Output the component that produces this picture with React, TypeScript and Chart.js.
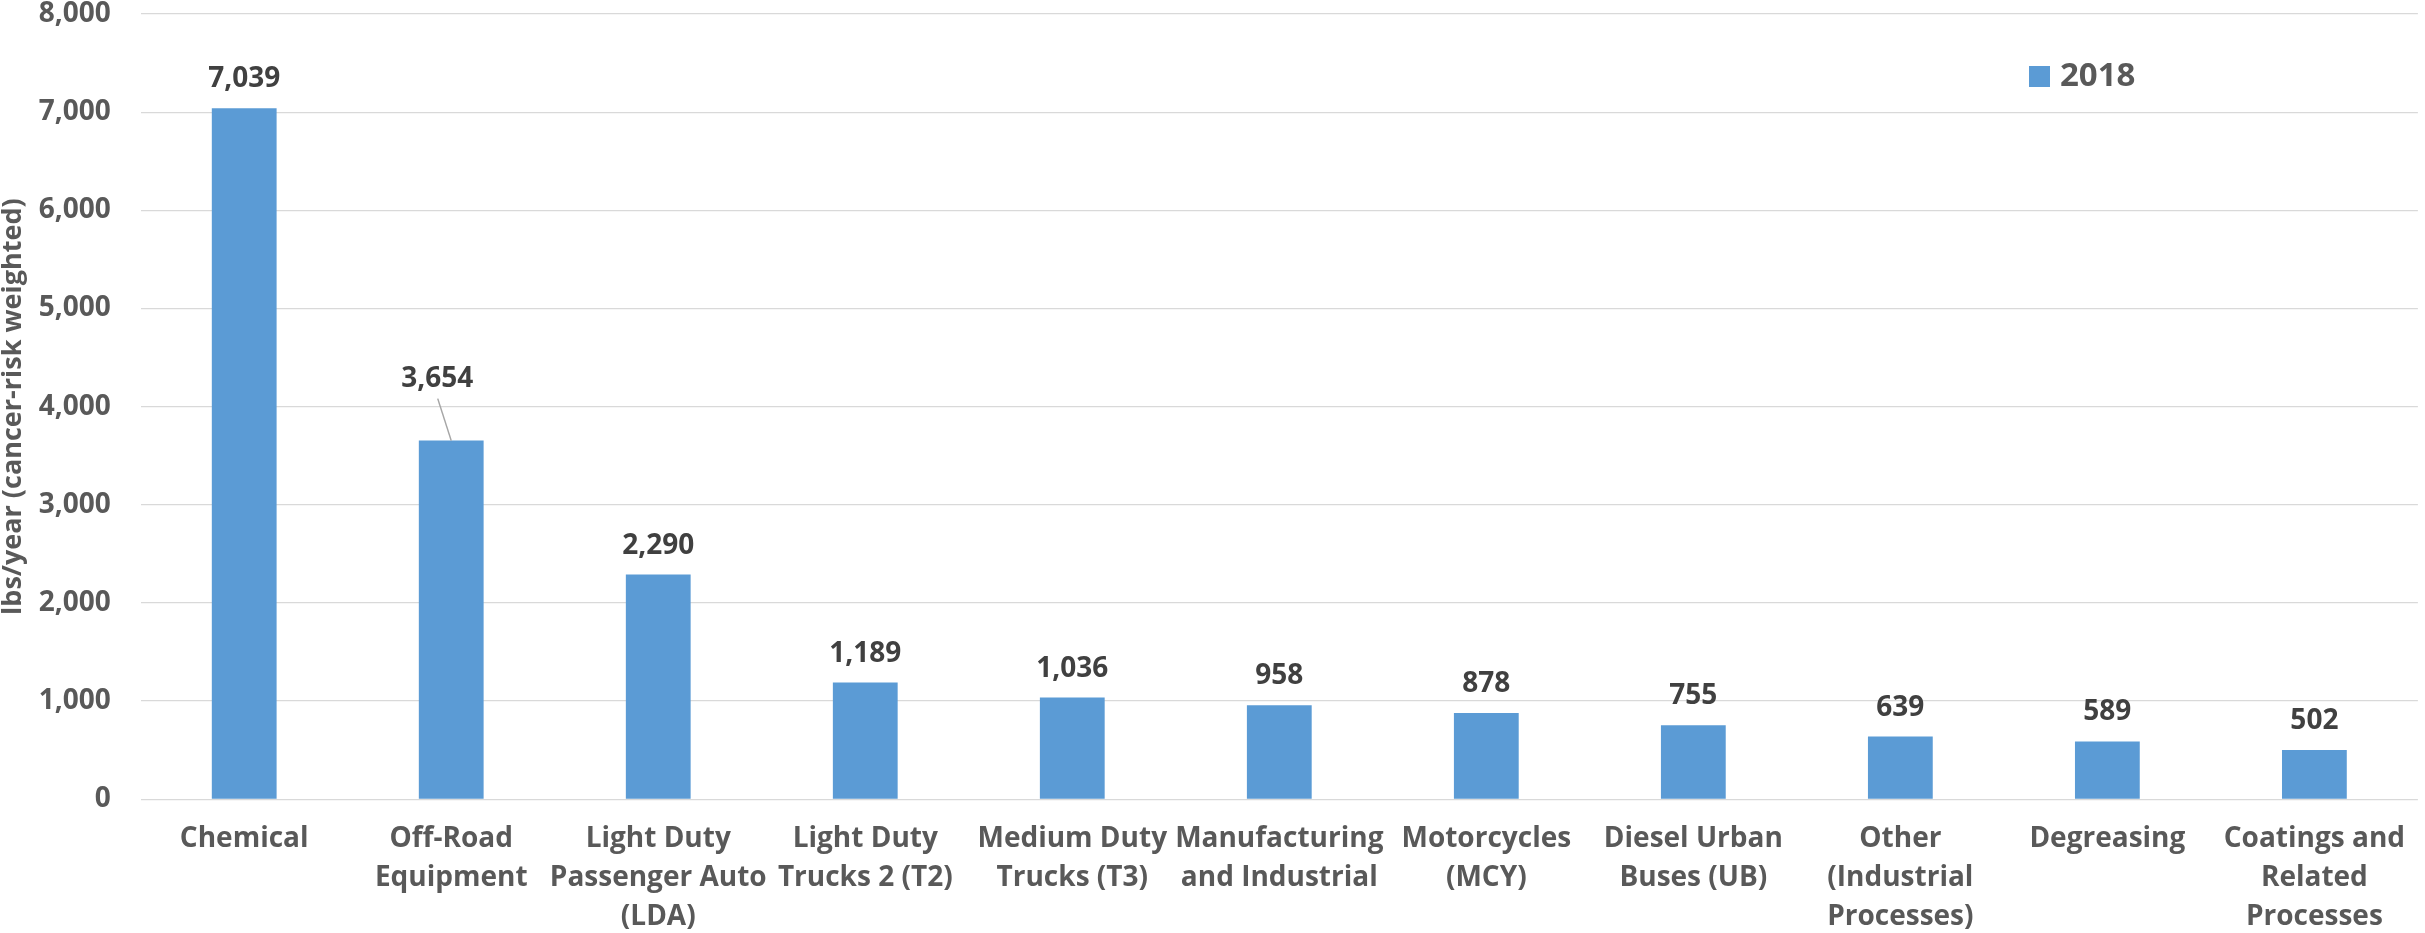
import React, { useEffect, useRef } from "react";
import { Chart, registerables } from "chart.js";

Chart.register(...registerables);

const categories: (string | string[])[] = [
  "Chemical",
  ["Off-Road", "Equipment"],
  ["Light Duty", "Passenger Auto", "(LDA)"],
  ["Light Duty", "Trucks 2 (T2)"],
  ["Medium Duty", "Trucks (T3)"],
  ["Manufacturing", "and Industrial"],
  ["Motorcycles", "(MCY)"],
  ["Diesel Urban", "Buses (UB)"],
  ["Other", "(Industrial", "Processes)"],
  "Degreasing",
  ["Coatings and", "Related", "Processes"],
];

const seriesLabel = "2018";
const values2018 = [7039, 3654, 2290, 1189, 1036, 958, 878, 755, 639, 589, 502];

const yTicks = [0, 1000, 2000, 3000, 4000, 5000, 6000, 7000, 8000];
const yTitle = "lbs/year (cancer-risk weighted)";

const FONT = "'Open Sans', 'DejaVu Sans', sans-serif";
const BAR_COLOR = "#5B9BD5";
const TEXT_COLOR = "#595959";
const LABEL_COLOR = "#404040";

const fmt = (v: number) => v.toLocaleString("en-US");

const dataLabelPlugin = {
  id: "dataLabels",
  afterDatasetsDraw(chart: any) {
    const ctx = chart.ctx;
    const meta = chart.getDatasetMeta(0);
    const data = chart.data.datasets[0].data as number[];
    ctx.save();
    ctx.font = `bold 28px ${FONT}`;
    ctx.fillStyle = LABEL_COLOR;
    ctx.textAlign = "center";
    ctx.textBaseline = "alphabetic";
    meta.data.forEach((bar: any, i: number) => {
      const x = bar.x;
      const y = bar.y;
      if (i === 1) {
        // label moved up-left with a leader line
        ctx.fillText(fmt(data[i]), x - 14, y - 54);
        ctx.strokeStyle = "#a6a6a6";
        ctx.lineWidth = 1.5;
        ctx.beginPath();
        ctx.moveTo(x - 13.5, y - 42);
        ctx.lineTo(x, y);
        ctx.stroke();
      } else {
        ctx.fillText(fmt(data[i]), x, y - 21);
      }
    });
    ctx.restore();
  },
};

const legendPlugin = {
  id: "customLegend",
  afterDraw(chart: any) {
    const ctx = chart.ctx;
    const ds = chart.data.datasets[0];
    const x = chart.width - 396;
    const y = 66;
    ctx.save();
    ctx.fillStyle = ds.backgroundColor;
    ctx.fillRect(x, y, 21, 21);
    ctx.font = `bold 33px ${FONT}`;
    ctx.fillStyle = TEXT_COLOR;
    ctx.textAlign = "left";
    ctx.textBaseline = "middle";
    ctx.fillText(ds.label, x + 31, y + 11);
    ctx.restore();
  },
};

export default function App() {
  const canvasRef = useRef<HTMLCanvasElement | null>(null);

  useEffect(() => {
    document.body.style.margin = "0";
    const canvas = canvasRef.current;
    if (!canvas) return;
    const chart = new Chart(canvas, {
      type: "bar",
      data: {
        labels: categories,
        datasets: [
          {
            label: seriesLabel,
            data: values2018,
            backgroundColor: BAR_COLOR,
            categoryPercentage: 1,
            barPercentage: 0.313,
          },
        ],
      },
      options: {
        animation: false,
        responsive: false,
        maintainAspectRatio: false,
        layout: { padding: { left: 0, right: 0, top: 0, bottom: 0 } },
        plugins: {
          legend: { display: false },
          tooltip: { enabled: false },
        },
        scales: {
          x: {
            grid: { display: false, drawTicks: false },
            border: { display: false },
            ticks: {
              color: TEXT_COLOR,
              font: { family: FONT, size: 28, weight: "bold", lineHeight: 1.4 },
              padding: 20,
              maxRotation: 0,
              minRotation: 0,
              autoSkip: false,
            },
            afterFit: (scale: any) => {
              scale.height = 133.7;
            },
          },
          y: {
            min: 0,
            max: 8000,
            afterBuildTicks: (scale: any) => {
              scale.ticks = yTicks.map((v) => ({ value: v }));
            },
            grid: {
              color: "#d9d9d9",
              lineWidth: 1.3,
              drawTicks: true,
              tickLength: 30,
              tickColor: "rgba(0,0,0,0)",
            },
            border: { display: false },
            ticks: {
              color: TEXT_COLOR,
              font: { family: FONT, size: 28, weight: "bold", lineHeight: 1.0 },
              padding: 0,
              callback: (v: any) => fmt(Number(v)),
            },
            title: {
              display: true,
              text: yTitle,
              color: TEXT_COLOR,
              font: { family: FONT, size: 27, weight: "bold", lineHeight: 1.0 },
              padding: { top: 0, bottom: 0 },
            },
            afterFit: (scale: any) => {
              scale.width = 140.7;
            },
          },
        },
      },
      plugins: [dataLabelPlugin, legendPlugin],
    });
    return () => chart.destroy();
  }, []);

  return (
    <div style={{ width: 2425, height: 933 }}>
      <canvas ref={canvasRef} width={2425} height={933} style={{ display: "block" }} />
    </div>
  );
}
